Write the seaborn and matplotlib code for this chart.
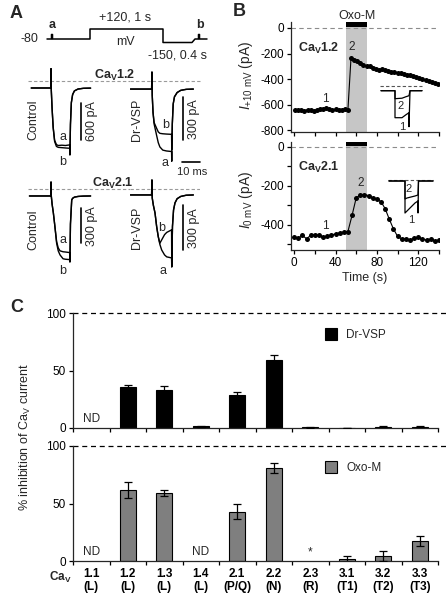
import numpy as np
import matplotlib
matplotlib.use('Agg')
import matplotlib.pyplot as plt
import seaborn as sns
from matplotlib.patches import Patch

# ---------------- data ----------------
# A: voltage protocol (schematic time units, mV)
prot_x = [7, 11.5, 11.5, 12.5, 12.5, 50, 50, 123, 123, 152, 155, 158.5, 158.5, 159.5, 159.5, 167]
prot_mv = [-80, -80, 10, 10, -80, -80, 120, 120, -150, -150, -80, -80, 10, 10, -80, -80]

# A: current traces (ms, pA), a = before, b = after +120 mV pulse
t_ctl12 = [-11, -0.2, 0, 0.15, 0.6, 1.2, 2, 3, 4, 6, 8, 10.4, 10.5, 10.8, 11.3, 12, 13, 15, 18, 22]
ctl12_a = [-113, -113, 200, -150, -450, -750, -960, -1030, -1045, -1040, -1045, -1035, -1180, -700, -350, -220, -160, -130, -118, -115]
ctl12_b = [-113, -113, 200, -150, -450, -760, -980, -1060, -1075, -1080, -1085, -1090, -1200, -700, -350, -220, -160, -130, -118, -115]

t_vsp12 = [-12, -0.2, 0, 0.15, 0.6, 1.2, 2.6, 3.5, 4.4, 6, 8, 10.9, 11, 11.3, 11.8, 12.5, 14, 16, 19, 23]
vsp12_a = [-56, -56, 63, -100, -220, -300, -380, -430, -460, -482, -488, -492, -560, -300, -160, -110, -80, -65, -58, -56]
vsp12_b = [-56, -56, 63, -100, -220, -290, -330, -355, -365, -368, -370, -372, -480, -300, -160, -110, -80, -65, -58, -56]

t_ctl21 = [-12, -0.2, 0, 0.15, 0.6, 1.3, 2, 3.1, 4, 5, 6.7, 8, 10.4, 10.5, 10.8, 11.5, 12, 13, 15, 18, 22]
ctl21_a = [-60, -60, 60, -60, -130, -206, -300, -450, -505, -530, -538, -540, -545, -625, -300, -94, -80, -70, -64, -61, -60]
ctl21_b = [-60, -60, 60, -60, -130, -206, -300, -463, -530, -565, -598, -602, -605, -625, -300, -94, -80, -70, -64, -61, -60]

t_vsp21 = [-12, -0.2, 0, 0.15, 0.8, 1.7, 2.6, 3.5, 4.4, 5.4, 7, 8.2, 10.9, 11, 11.4, 12, 12.8, 14, 16, 19, 23]
vsp21_a = [-40, -40, 60, -60, -110, -160, -250, -318, -370, -407, -440, -453, -460, -520, -250, -140, -93, -65, -50, -42, -40]
vsp21_b = [-40, -40, 60, -60, -110, -160, -250, -318, -362, -340, -305, -290, -273, -520, -250, -140, -93, -65, -50, -42, -40]

# B: time courses
b12_time = [1, 4, 7, 10, 13, 16, 19, 22, 25, 28, 31, 34, 37, 40, 43, 46, 49, 52,
            55, 58, 61, 64, 67, 70, 73, 76, 79, 82, 85, 88, 91, 94, 97, 100, 103,
            106, 109, 112, 115, 118, 121, 124, 127, 130, 133, 136, 139]
b12_current = [-642, -645, -640, -648, -640, -645, -650, -642, -638, -632, -628, -635,
               -640, -638, -642, -640, -638, -640,
               -232, -248, -262, -275, -290, -300, -298, -312, -322, -330, -322, -330,
               -338, -342, -345, -350, -355, -360, -368, -372, -378, -385, -392, -400,
               -408, -415, -425, -432, -440]
b21_time = [0, 4, 8, 12, 16, 20, 24, 28, 32, 36, 40, 44, 48, 52, 56, 60, 64, 68,
            72, 76, 80, 84, 88, 92, 96, 100, 104, 108, 112, 116, 120, 124, 128, 132, 136, 140]
b21_current = [-465, -470, -455, -472, -455, -452, -455, -465, -458, -452, -448, -442,
               -438, -435, -352, -262, -247, -246, -250, -262, -268, -282, -318, -372,
               -422, -460, -473, -472, -478, -470, -465, -475, -478, -476, -482, -480]
oxo_start, oxo_end = 50, 70

# B insets (schematic units)
ins12_x = [3, 17, 17, 24, 28, 31, 31, 32, 44]
ins12_1 = [-5, -5, -32, -32, -29, -27, -41, -5, -5]
ins12_2 = [-5, -5, -13, -12.5, -11, -10, -10, -5, -5]
ins21_x = [3, 19, 19, 21, 25, 29, 32, 32, 32.5, 47]
ins21_1 = [-1, -1, -33, -31, -27, -23, -21, -33, -1, -1]
ins21_2 = [-1, -1, -19, -18, -17, -16, -15, -15, -1, -1]

# C: % inhibition
cav_types = ['1.1', '1.2', '1.3', '1.4', '2.1', '2.2', '2.3', '3.1', '3.2', '3.3']
cav_class = ['L', 'L', 'L', 'L', 'P/Q', 'N', 'R', 'T1', 'T2', 'T3']
drvsp_mean = [np.nan, 35.7, 32.7, 1.5, 28.4, 59.4, 0.6, 0.2, 1.0, 1.2]
drvsp_sem = [np.nan, 2.0, 3.6, 0.6, 2.5, 4.5, 0.3, 0.1, 0.5, 0.5]
oxom_mean = [np.nan, 62.0, 59.0, np.nan, 43.0, 81.0, np.nan, 1.7, 4.3, 17.6]
oxom_sem = [np.nan, 7.0, 2.6, np.nan, 6.6, 4.5, np.nan, 2.3, 4.7, 4.5]

# ---------------- style ----------------
sns.set_style('ticks')
plt.rcParams['font.family'] = ['Liberation Sans', 'DejaVu Sans']
plt.rcParams['mathtext.fontset'] = 'custom'
plt.rcParams['mathtext.rm'] = 'Liberation Sans'
plt.rcParams['mathtext.it'] = 'Liberation Sans:italic'
plt.rcParams['mathtext.bf'] = 'Liberation Sans:bold'
plt.rcParams['axes.unicode_minus'] = False
plt.rcParams['axes.linewidth'] = 0.9
for k in ['xtick', 'ytick']:
    plt.rcParams[k + '.major.size'] = 3
    plt.rcParams[k + '.minor.size'] = 2
    plt.rcParams[k + '.major.width'] = 0.9
    plt.rcParams[k + '.minor.width'] = 0.9
    plt.rcParams[k + '.labelsize'] = 8
    plt.rcParams[k + '.color'] = 'black'

W, H = 448, 601
fig = plt.figure(figsize=(W / 100, H / 100), dpi=100)


def px_axes(x0, y0, x1, y1):
    return fig.add_axes([x0 / W, 1 - y1 / H, (x1 - x0) / W, (y1 - y0) / H])


def ptext(x, y, s, **kw):
    kw.setdefault('ha', 'center')
    kw.setdefault('va', 'center')
    kw.setdefault('fontsize', 9)
    fig.text(x / W, 1 - y / H, s, **kw)


CAV = r'Ca$_\mathregular{V}$'

# ---------------- panel A ----------------
ptext(10, 13, 'A', fontsize=13, fontweight='bold', ha='left')
ax_p = px_axes(40, 20, 210, 50)
ax_p.plot(prot_x, prot_mv, color='k', lw=1.1)
ax_p.set_xlim(0, 170)
ax_p.set_ylim(-300, 300)
ax_p.axis('off')
ptext(29, 39, '-80')
ptext(52, 25, 'a', fontweight='bold')
ptext(200, 25, 'b', fontweight='bold')
ptext(125, 18, '+120, 1 s')
ptext(125, 42, 'mV')
ptext(177, 56, '-150, 0.4 s')


def trace_axes(box, xlim, ylim, t, ia, ib):
    ax = px_axes(*box)
    ax.set_xlim(xlim)
    ax.set_ylim(ylim)
    ax.axis('off')
    ax.axhline(0, color='#9a9a9a', ls=(0, (3, 2)), lw=0.8)
    ax.plot(t, ia, color='k', lw=1.0)
    ax.plot(t, ib, color='k', lw=1.0)
    return ax


ax = trace_axes((28, 68, 130, 165), (-12.8, 43.9), (-1361, 211), t_ctl12, ctl12_a, ctl12_b)
ax.plot([16.7, 16.7], [-356, -956], color='k', lw=1.2)
ax = trace_axes((130, 68, 202, 165), (-12.2, 27.8), (-586, 91), t_vsp12, vsp12_a, vsp12_b)
ax.plot([17.2, 17.2], [-112, -412], color='k', lw=1.2)
ax.plot([16.7, 26.7], [-565, -565], color='k', lw=1.2)
ax = trace_axes((28, 178, 130, 275), (-12.8, 43.9), (-737, 94), t_ctl21, ctl21_a, ctl21_b)
ax.plot([16.7, 16.7], [-163, -463], color='k', lw=1.2)
ax = trace_axes((130, 178, 200, 275), (-12.2, 26.7), (-574, 73), t_vsp21, vsp21_a, vsp21_b)
ax.plot([17.2, 17.2], [-107, -407], color='k', lw=1.2)

ptext(115, 75, CAV + '1.2', fontweight='bold')
ptext(113, 183, CAV + '2.1', fontweight='bold')
for y, lab in [(120, 'Control'), (230, 'Control')]:
    ptext(33, y, lab, rotation=90)
for y in [120, 228]:
    ptext(137, y, 'Dr-VSP', rotation=90)
ptext(92, 121, '600 pA', rotation=90)
ptext(194, 119, '300 pA', rotation=90)
ptext(92, 226, '300 pA', rotation=90)
ptext(194, 228, '300 pA', rotation=90)
ptext(192, 172, '10 ms', fontsize=8)
for x, y, s in [(63, 137, 'a'), (63, 162, 'b'), (166, 125, 'b'), (165, 163, 'a'),
                (63, 240, 'a'), (63, 271, 'b'), (162, 228, 'b'), (163, 271, 'a')]:
    ptext(x, y, s)

# ---------------- panel B ----------------
ptext(233, 12, 'B', fontsize=13, fontweight='bold', ha='left')


def time_axes(box, ylim, t, cur, bar_lo):
    ax = px_axes(*box)
    ax.axvspan(oxo_start, oxo_end, color='#c6c6c6', lw=0, zorder=0)
    ax.axhline(0, color='#8c8c8c', ls=(0, (4, 3)), lw=0.8, zorder=1)
    ax.fill_between([oxo_start, oxo_end], bar_lo, ylim[1], color='k', lw=0, zorder=2)
    sns.lineplot(x=t, y=cur, color='k', lw=0.8, marker='o', markersize=3.6,
                 markeredgewidth=0, estimator=None, ax=ax, zorder=3)
    ax.set_xlim(-3, 140)
    ax.set_ylim(ylim)
    ax.set_xticks([0, 40, 80, 120])
    ax.set_xticks([20, 60, 100, 140], minor=True)
    ax.tick_params(which='minor', length=3)
    sns.despine(ax=ax)
    return ax


ax_b1 = time_axes((291, 22, 439, 132), (-815, 47), b12_time, b12_current, 8)
ax_b1.set_yticks([0, -200, -400, -600, -800])
ax_b1.tick_params(labelbottom=False)
ax_b2 = time_axes((291, 142, 439, 250), (-530, 25), b21_time, b21_current, 5)
ax_b2.set_yticks([0, -200, -400])
ax_b2.set_yticks([-100, -300, -500], minor=True)
for a in (ax_b1, ax_b2):
    a.tick_params(labelsize=8.5, pad=2)
ax_b2.set_xlabel('Time (s)', fontsize=9, labelpad=2)
ptext(357, 16, 'Oxo-M', fontsize=9)
ptext(246, 75, r'$I_{\mathregular{+10\ mV}}$ (pA)', rotation=90, fontsize=10)
ptext(246, 200, r'$I_{\mathregular{0\ mV}}$ (pA)', rotation=90, fontsize=10)
ax_b1.text(24, -157, CAV + '1.2', fontsize=9, fontweight='bold', ha='center', va='center')
ax_b1.text(56, -150, '2', fontsize=8.5, ha='center', va='center')
ax_b1.text(30, -560, '1', fontsize=8.5, ha='center', va='center')
ax_b2.text(24, -108, CAV + '2.1', fontsize=9, fontweight='bold', ha='center', va='center')
ax_b2.text(64, -188, '2', fontsize=8.5, ha='center', va='center')
ax_b2.text(30, -405, '1', fontsize=8.5, ha='center', va='center')

# insets
for box, ylim, xs, i1, i2, xr, lab in [
        ((378, 82, 425, 130), (-44.3, 3.7), ins12_x, ins12_1, ins12_2, (2, 44),
         [(401, 106, '2'), (402, 127, '1')]),
        ((386, 176, 435, 216), (-36, 4), ins21_x, ins21_1, ins21_2, (2, 47),
         [(409, 189, '2'), (411, 220, '1')])]:
    ai = px_axes(*box)
    ai.set_xlim(0, box[2] - box[0])
    ai.set_ylim(ylim)
    ai.axis('off')
    ai.plot(xr, [0, 0], color='#555555', ls=(0, (3, 2)), lw=0.8)
    ai.plot(xs, i1, color='k', lw=0.9)
    ai.plot(xs, i2, color='k', lw=0.9)
    for x, y, s in lab:
        ptext(x, y, s, fontsize=8)

# ---------------- panel C ----------------
ptext(10, 307, 'C', fontsize=13, fontweight='bold', ha='left')


def bar_axes(box, mean, sem, color, label, nd_marks):
    ax = px_axes(*box)
    sns.barplot(x=cav_types, y=mean, order=cav_types, color=color, saturation=1,
                width=0.43, errorbar=None, edgecolor='black', linewidth=0.8, ax=ax)
    ax.errorbar(np.arange(len(cav_types)), mean, yerr=sem, fmt='none', ecolor='k',
                elinewidth=0.9, capsize=3, capthick=0.9, zorder=5)
    ax.set_xlim(-0.5, 9.5)
    ax.set_ylim(0, 100)
    ax.set_yticks([0, 50, 100])
    ax.set_xticks(np.arange(-0.5, 10, 1), labels=[''] * 11)
    ax.set_xlabel('')
    ax.set_ylabel('')
    ax.axhline(100, xmin=0, xmax=1.03, color='k', ls=(0, (4, 3)), lw=0.9, clip_on=False)
    sns.despine(ax=ax)
    ax.tick_params(axis='y', labelsize=8.5, pad=2)
    ax.legend(handles=[Patch(facecolor=color, edgecolor='k', lw=0.8, label=label)],
              loc='center left', bbox_to_anchor=(0.69, 0.81), frameon=False,
              fontsize=8.5, handlelength=1.0, handleheight=1.2, borderpad=0,
              borderaxespad=0, handletextpad=0.8)
    for i, s in nd_marks:
        ax.text(i, 2.5, s, ha='center', va='bottom', fontsize=8.5)
    return ax


ax_c1 = bar_axes((73, 313, 438, 428), drvsp_mean, drvsp_sem, 'black', 'Dr-VSP', [(0, 'ND')])
ax_c2 = bar_axes((73, 446, 438, 561), oxom_mean, oxom_sem, '#7f7f7f', 'Oxo-M',
                 [(0, 'ND'), (3, 'ND'), (6, '*')])
ax_c2.set_xticks(np.arange(10), labels=[f'{c}\n({k})' for c, k in zip(cav_types, cav_class)],
                 minor=True)
ax_c2.tick_params(axis='x', which='minor', length=0, pad=5, labelsize=8.5)
for lbl in ax_c2.get_xticklabels(minor=True):
    lbl.set_fontweight('bold')
    lbl.set_linespacing(1.15)
ptext(49, 577, CAV, fontsize=8.5, fontweight='bold', ha='left')
ptext(25, 437, '% inhibition of ' + CAV + ' current', rotation=90, fontsize=9)

fig.savefig('out.png', dpi=100)
